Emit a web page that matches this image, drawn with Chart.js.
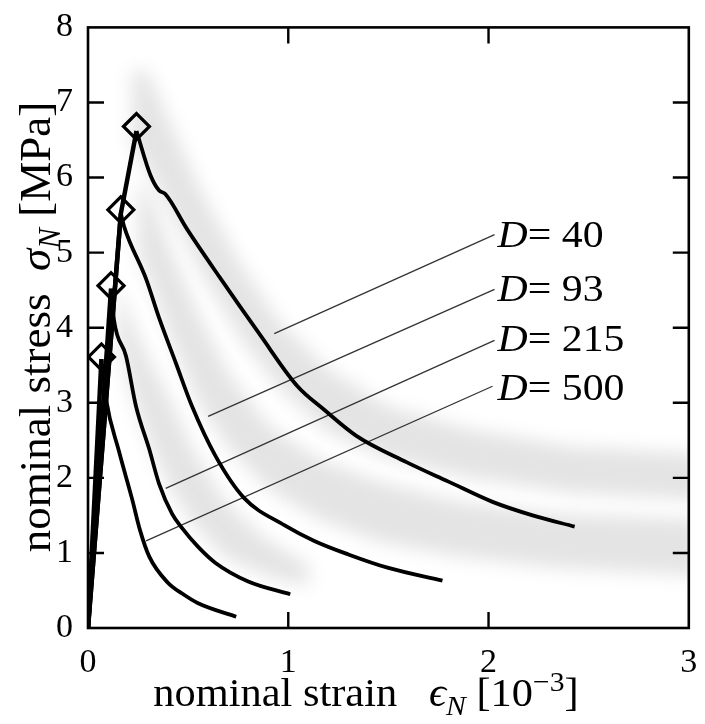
<!DOCTYPE html>
<html lang="en">
<head>
<meta charset="UTF-8">
<title>nominal stress x nominal strain</title>
<script src="https://cdn.jsdelivr.net/npm/chart.js"></script>
<style>
  body { margin: 0; background: #fff; }
</style>
</head>
<body>
<canvas id="grafico" width="705" height="724"></canvas>
<script>
// ---- dados ----
const xTicks = [0, 1, 2, 3];
const yTicks = [0, 1, 2, 3, 4, 5, 6, 7, 8];
const rotulos = ['40', '93', '215', '500'];

// subida (pre-pico) de cada curva
const sobe40X = [0, 0.164, 0.242];
const sobe40Y = [0, 5.52, 6.62];
const sobe93X = [0, 0.164];
const sobe93Y = [0, 5.52];
const sobe215X = [0, 0.115];
const sobe215Y = [0, 4.52];
const sobe500X = [0, 0.067];
const sobe500Y = [0, 3.58];

// descida (pos-pico)
const desce40X = [0.242, 0.312, 0.354, 0.386, 0.493, 0.658, 0.855, 1.046, 1.178, 1.34, 1.59, 1.80, 2.02, 2.22, 2.43];
const desce40Y = [6.62, 6.03, 5.83, 5.78, 5.32, 4.67, 3.92, 3.22, 2.91, 2.56, 2.21, 1.95, 1.68, 1.50, 1.35];
const desce93X = [0.164, 0.18, 0.29, 0.355, 0.44, 0.52, 0.635, 0.78, 0.98, 1.13, 1.30, 1.50, 1.77];
const desce93Y = [5.52, 5.35, 4.65, 4.13, 3.52, 2.95, 2.30, 1.73, 1.37, 1.16, 0.98, 0.80, 0.63];
const desce215X = [0.115, 0.13, 0.19, 0.24, 0.306, 0.355, 0.42, 0.47, 0.55, 0.635, 0.80, 1.01];
const desce215Y = [4.52, 4.10, 3.62, 2.95, 2.38, 1.92, 1.52, 1.33, 1.08, 0.87, 0.62, 0.45];
const desce500X = [0.067, 0.09, 0.155, 0.22, 0.26, 0.306, 0.40, 0.47, 0.55, 0.74];
const desce500Y = [3.58, 3.05, 2.35, 1.72, 1.30, 0.95, 0.60, 0.46, 0.33, 0.15];

// picos (losangos)
const picoX = [0.242, 0.164, 0.115, 0.067];
const picoY = [6.68, 5.57, 4.56, 3.61];

// linhas de chamada e rotulos
const chamadaX0 = [0.93, 0.60, 0.388, 0.29];
const chamadaY0 = [3.92, 2.82, 1.86, 1.16];
const chamadaX1 = [2.03, 2.03, 2.03, 2.02];
const chamadaY1 = [5.24, 4.51, 3.83, 3.22];
const rotuloX = 2.045;
const rotuloY = [5.21, 4.49, 3.82, 3.17];

// faixas cinzas (ensaios) - limites superior e inferior
const faixaUX = [0.22, 0.30, 0.40, 0.55, 0.75, 0.95, 1.20, 1.50, 1.90, 2.40, 3.05];
const faixaUTopo = [7.45, 7.4, 6.8, 5.9, 4.9, 4.1, 3.45, 2.95, 2.65, 2.42, 2.32];
const faixaUBase = [6.4, 6.1, 5.6, 4.8, 3.9, 3.2, 2.6, 2.25, 2.0, 1.8, 1.7];
const faixaMX = [0.25, 0.32, 0.42, 0.55, 0.70, 0.90, 1.15, 1.45, 1.85, 2.35, 3.05];
const faixaMTopo = [6.0, 5.7, 5.0, 4.2, 3.4, 2.7, 2.25, 1.95, 1.68, 1.52, 1.45];
const faixaMBase = [5.0, 4.5, 3.8, 3.0, 2.4, 1.85, 1.45, 1.15, 0.95, 0.8, 0.7];
const faixaLX = [0.15, 0.22, 0.30, 0.40, 0.52, 0.68, 0.88, 1.10];
const faixaLTopo = [4.6, 4.1, 3.6, 3.1, 2.4, 1.7, 1.2, 0.85];
const faixaLBase = [3.8, 3.1, 2.5, 1.9, 1.4, 0.95, 0.7, 0.55];

const faixas = [
  { x: faixaUX, topo: faixaUTopo, base: faixaUBase },
  { x: faixaMX, topo: faixaMTopo, base: faixaMBase },
  { x: faixaLX, topo: faixaLTopo, base: faixaLBase }
];

const FONTE = '"Liberation Serif", "DejaVu Serif", serif';

function pontos(xs, ys) {
  return xs.map((v, i) => ({ x: v, y: ys[i] }));
}

// texto com italico / subscrito / sobrescrito
function fontePara(estilo, s) {
  if (estilo === 'i') return `italic ${s}px ${FONTE}`;
  if (estilo === 'sub') return `italic ${Math.round(s * 0.7)}px ${FONTE}`;
  if (estilo === 'sup') return `${Math.round(s * 0.7)}px ${FONTE}`;
  return `${s}px ${FONTE}`;
}
function larguraPartes(ctx, partes, s) {
  let w = 0;
  partes.forEach(p => { ctx.font = fontePara(p[1], s); w += ctx.measureText(p[0]).width; });
  return w;
}
function desenhaPartes(ctx, partes, x, y, s) {
  let cx = x;
  partes.forEach(p => {
    ctx.font = fontePara(p[1], s);
    let dy = 0;
    if (p[1] === 'sub') dy = s * 0.22;
    if (p[1] === 'sup') dy = -s * 0.38;
    ctx.fillText(p[0], cx, y + dy);
    cx += ctx.measureText(p[0]).width;
  });
}

const pluginFaixas = {
  id: 'faixas',
  beforeDatasetsDraw(chart) {
    const { ctx, chartArea, scales } = chart;
    ctx.save();
    ctx.beginPath();
    ctx.rect(chartArea.left, chartArea.top, chartArea.width, chartArea.height);
    ctx.clip();
    ctx.filter = 'blur(9px)';
    ctx.fillStyle = 'rgba(0,0,0,0.105)';
    faixas.forEach(f => {
      ctx.beginPath();
      f.x.forEach((v, i) => {
        const px = scales.x.getPixelForValue(v), py = scales.y.getPixelForValue(f.topo[i]);
        if (i === 0) ctx.moveTo(px, py); else ctx.lineTo(px, py);
      });
      for (let i = f.x.length - 1; i >= 0; i--) {
        ctx.lineTo(scales.x.getPixelForValue(f.x[i]), scales.y.getPixelForValue(f.base[i]));
      }
      ctx.closePath();
      ctx.fill();
    });
    ctx.restore();
  }
};

const pluginMoldura = {
  id: 'moldura',
  afterDraw(chart) {
    const { ctx, chartArea: a, scales } = chart;
    const tam = 16;
    ctx.save();
    ctx.strokeStyle = '#000';
    ctx.lineWidth = 2.6;
    ctx.strokeRect(a.left, a.top, a.width, a.height);
    ctx.lineWidth = 2.4;
    ctx.beginPath();
    xTicks.forEach(v => {
      if (v === xTicks[0] || v === xTicks[xTicks.length - 1]) return;
      const px = scales.x.getPixelForValue(v);
      ctx.moveTo(px, a.bottom); ctx.lineTo(px, a.bottom - tam);
      ctx.moveTo(px, a.top); ctx.lineTo(px, a.top + tam);
    });
    yTicks.forEach(v => {
      if (v === yTicks[0] || v === yTicks[yTicks.length - 1]) return;
      const py = scales.y.getPixelForValue(v);
      ctx.moveTo(a.left, py); ctx.lineTo(a.left + tam, py);
      ctx.moveTo(a.right, py); ctx.lineTo(a.right - tam, py);
    });
    ctx.stroke();

    // rotulos D=
    ctx.fillStyle = '#000';
    ctx.textBaseline = 'middle';
    ctx.textAlign = 'left';
    rotulos.forEach((r, i) => {
      const px = scales.x.getPixelForValue(rotuloX);
      const py = scales.y.getPixelForValue(rotuloY[i]);
      ctx.save();
      ctx.translate(px, py);
      ctx.scale(1.1, 1);
      desenhaPartes(ctx, [['D', 'i'], ['= ' + r, 'r']], 0, 0, 38);
      ctx.restore();
    });

    // titulo eixo x
    const tx = [['nominal strain   ', 'r'], ['\u03F5', 'i'], ['N', 'sub'], [' [10', 'r'], ['\u22123', 'sup'], [']', 'r']];
    ctx.textBaseline = 'alphabetic';
    ctx.save();
    const sx = 40;
    const wx = larguraPartes(ctx, tx, sx) * 1.06;
    ctx.translate(366 - wx / 2, 706);
    ctx.scale(1.06, 1);
    desenhaPartes(ctx, tx, 0, 0, sx);
    ctx.restore();

    // titulo eixo y
    const ty = [['nominal stress  ', 'r'], ['\u03C3', 'i'], ['N', 'sub'], [' [MPa]', 'r']];
    ctx.save();
    const sy = 45;
    const wy = larguraPartes(ctx, ty, sy);
    ctx.translate(50, 327);
    ctx.rotate(-Math.PI / 2);
    desenhaPartes(ctx, ty, -wy / 2, 0, sy);
    ctx.restore();
    ctx.restore();
  }
};

const conjuntos = [];
const sobes = [[sobe40X, sobe40Y], [sobe93X, sobe93Y], [sobe215X, sobe215Y], [sobe500X, sobe500Y]];
const desces = [[desce40X, desce40Y], [desce93X, desce93Y], [desce215X, desce215Y], [desce500X, desce500Y]];

conjuntos.push({
  label: 'picos',
  data: pontos(picoX, picoY),
  showLine: false,
  pointStyle: 'rectRot',
  pointRadius: 13,
  borderWidth: 3.2,
  borderColor: '#000',
  backgroundColor: 'rgba(0,0,0,0)'
});

rotulos.forEach((r, i) => {
  conjuntos.push({
    label: 'D=' + r + ' subida',
    data: pontos(sobes[i][0], sobes[i][1]),
    showLine: true, pointRadius: 0, borderWidth: 4.5,
    borderColor: '#000', tension: 0
  });
  conjuntos.push({
    label: 'D=' + r,
    data: pontos(desces[i][0], desces[i][1]),
    showLine: true, pointRadius: 0, borderWidth: 3.8,
    borderColor: '#000', cubicInterpolationMode: 'monotone'
  });
});

rotulos.forEach((r, i) => {
  conjuntos.push({
    label: 'chamada ' + r,
    data: [{ x: chamadaX0[i], y: chamadaY0[i] }, { x: chamadaX1[i], y: chamadaY1[i] }],
    showLine: true, pointRadius: 0, borderWidth: 1.3,
    borderColor: '#333'
  });
});

new Chart(document.getElementById('grafico'), {
  type: 'scatter',
  data: { datasets: conjuntos },
  options: {
    responsive: false,
    animation: false,
    devicePixelRatio: 1,
    events: [],
    layout: { padding: { top: 20, right: 8, left: 0, bottom: 0 } },
    plugins: { legend: { display: false }, tooltip: { enabled: false } },
    scales: {
      x: {
        type: 'linear', min: 0, max: 3,
        afterBuildTicks: s => { s.ticks = xTicks.map(v => ({ value: v })); },
        afterFit: s => { s.height = 96; },
        grid: { display: false }, border: { display: false },
        ticks: { color: '#000', padding: 7, maxRotation: 0, font: { family: FONTE, size: 34 } }
      },
      y: {
        type: 'linear', min: 0, max: 8,
        afterBuildTicks: s => { s.ticks = yTicks.map(v => ({ value: v })); },
        afterFit: s => { s.width = 88; },
        grid: { display: false }, border: { display: false },
        ticks: { color: '#000', padding: 7, font: { family: FONTE, size: 34 } }
      }
    }
  },
  plugins: [pluginFaixas, pluginMoldura]
});
</script>
</body>
</html>
